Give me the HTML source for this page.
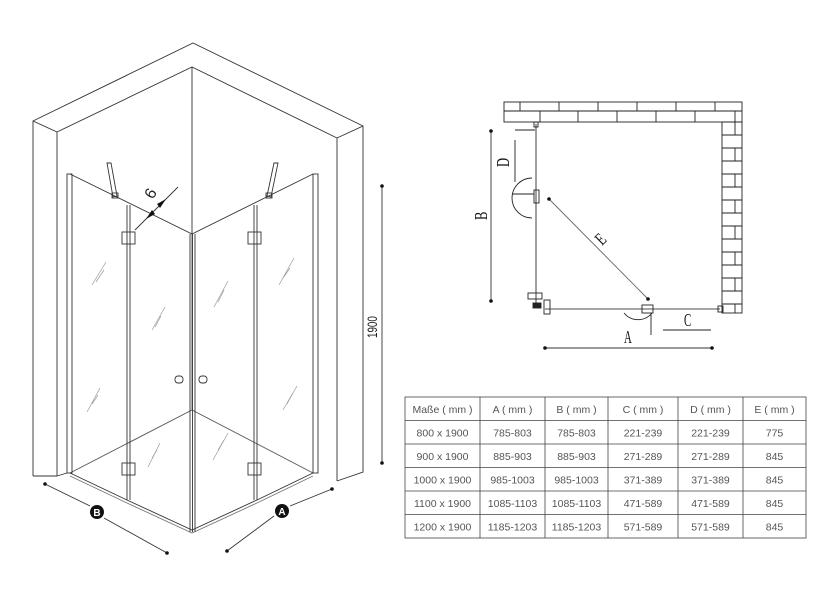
<!DOCTYPE html>
<html><head><meta charset="utf-8"><style>
html,body{margin:0;padding:0;background:#fff;}
svg{display:block;}
text{font-family:"Liberation Sans",sans-serif;}
text.s{font-family:"Liberation Serif",serif;}
</style></head><body>
<svg width="840" height="603" viewBox="0 0 840 603" xmlns="http://www.w3.org/2000/svg">
<g fill="none" stroke="#333" stroke-width="0.9">
<polyline points="33,476 33,121 193,43 363,126 363,472 337,481"/>
<polyline points="57,476 57,132 192,67 337,138 337,481"/>
<line x1="33" y1="121" x2="57" y2="132"/>
<line x1="363" y1="126" x2="337" y2="138"/>
<line x1="33" y1="476" x2="57" y2="476"/>
<line x1="57" y1="476" x2="67" y2="473"/>
<line x1="192" y1="67" x2="192" y2="234"/>
<line x1="192" y1="410" x2="70" y2="473" stroke="#555"/>
<line x1="192" y1="410" x2="313" y2="473" stroke="#555"/>
<line x1="192" y1="410" x2="192" y2="234" stroke="#555"/>
<rect x="67" y="174" width="5" height="299"/>
<rect x="313" y="174" width="5" height="299"/>
<polyline points="70,174 192,234 313,174"/>
<polyline points="70,473 127,500 192,530 257,500 313,473"/>
<polyline points="70,476 127,503 192,533 257,503 313,476" stroke="#777"/>
<line x1="127" y1="205" x2="127" y2="500"/><line x1="130" y1="205" x2="130" y2="500"/>
<line x1="190" y1="234" x2="190" y2="532"/><line x1="192.5" y1="234" x2="192.5" y2="532"/><line x1="195" y1="234" x2="195" y2="532"/>
<line x1="254" y1="205" x2="254" y2="500"/><line x1="257" y1="205" x2="257" y2="500"/>
<rect x="122" y="232" width="13" height="12"/><rect x="122" y="463" width="13" height="12"/>
<rect x="248" y="232" width="13" height="12"/><rect x="248" y="463" width="13" height="12"/>
<polygon points="107,163 111,163 117,196 113,197"/><rect x="112" y="193" width="6" height="5"/>
<polygon points="274,163 278,163 271,197 267,196"/><rect x="266" y="193" width="6" height="5"/>
<rect x="175" y="376" width="8" height="7" rx="3"/><rect x="199" y="376" width="8" height="7" rx="3"/>
<g stroke="#999" stroke-width="0.7">
<line x1="92" y1="285" x2="106" y2="262"/><line x1="96" y1="282" x2="104" y2="270"/>
<line x1="152" y1="330" x2="165" y2="307"/><line x1="155" y1="327" x2="161" y2="316"/>
<line x1="87" y1="412" x2="100" y2="388"/><line x1="92" y1="404" x2="98" y2="395"/>
<line x1="148" y1="467" x2="160" y2="443"/><line x1="152" y1="458" x2="157" y2="450"/>
<line x1="214" y1="307" x2="228" y2="281"/><line x1="218" y1="302" x2="224" y2="290"/>
<line x1="279" y1="285" x2="294" y2="258"/><line x1="283" y1="278" x2="290" y2="268"/>
<line x1="283" y1="410" x2="297" y2="386"/><line x1="287" y1="404" x2="293" y2="393"/>
<line x1="213" y1="460" x2="228" y2="433"/><line x1="218" y1="450" x2="224" y2="440"/>
</g>
<line x1="135" y1="230" x2="178" y2="187"/>
</g>
<polygon points="146,219 152,210 155,214" fill="#111"/>
<polygon points="166,199 160,208 157,204" fill="#111"/>
<text font-size="16" fill="#222" transform="translate(153,200) rotate(-60)">6</text>
<g stroke="#333" stroke-width="0.9"><line x1="382" y1="186" x2="382" y2="463"/></g>
<circle cx="382" cy="186" r="1.8" fill="#111"/><circle cx="382" cy="463" r="1.8" fill="#111"/>
<text font-size="14" fill="#222" transform="translate(377,338) rotate(-90) scale(0.7,1)">1900</text>
<g stroke="#333" stroke-width="0.9"><line x1="45" y1="484" x2="90" y2="506"/><line x1="104" y1="518" x2="167" y2="553"/>
<line x1="227" y1="551" x2="274" y2="516"/><line x1="290" y1="506" x2="332" y2="489"/></g>
<circle cx="45" cy="484" r="1.8" fill="#111"/><circle cx="167" cy="553" r="1.8" fill="#111"/>
<circle cx="227" cy="551" r="1.8" fill="#111"/><circle cx="332" cy="489" r="1.8" fill="#111"/>
<circle cx="97" cy="512" r="7" fill="#111"/><circle cx="282" cy="511" r="7" fill="#111"/>
<text x="97" y="516" font-size="10" font-weight="bold" fill="#fff" text-anchor="middle">B</text>
<text x="282" y="515" font-size="10" font-weight="bold" fill="#fff" text-anchor="middle">A</text>

<g fill="none" stroke="#222" stroke-width="0.9">
<rect x="504" y="102" width="238" height="20"/>
<line x1="504" y1="111" x2="742" y2="111"/>
<path d="M520,102V111M559,102V111M598,102V111M637,102V111M676,102V111M715,102V111M540,111V122M578,111V122M617,111V122M656,111V122M695,111V122M735,111V122"/>
<rect x="722" y="122" width="20" height="191"/>
<path d="M722,135H742M722,148H742M722,161H742M722,174H742M722,187H742M722,200H742M722,213H742M722,226H742M722,239H742M722,252H742M722,265H742M722,278H742M722,291H742M722,304H742"/>
<path d="M735,122V135M735,148V161M735,174V187M735,200V213M735,226V239M735,252V265M735,278V291M735,304V313"/>
</g>
<g stroke="#888" stroke-width="1.6"><line x1="536" y1="124" x2="536" y2="303"/><line x1="545" y1="309" x2="720" y2="309"/></g>
<g fill="none" stroke="#222" stroke-width="0.9">
<rect x="534" y="122" width="4" height="5"/>
<rect x="718" y="306" width="5" height="6"/>
<rect x="642" y="305" width="11" height="8"/>
<rect x="534" y="190" width="5" height="13"/>
<path d="M532,178 A20,20 0 0 0 532,218"/>
<path d="M624,313 A18,18 0 0 0 652,313"/>
<rect x="528" y="293" width="14" height="6"/>
<rect x="544" y="300" width="6" height="14"/>
<rect x="533" y="303" width="8" height="5" fill="#222"/>
<line x1="512" y1="194" x2="534" y2="194"/>
<line x1="515" y1="130" x2="535" y2="130"/>
<line x1="515" y1="140" x2="515" y2="182"/>
<line x1="651" y1="313" x2="651" y2="335"/>
<line x1="663" y1="330" x2="711" y2="330"/>
</g>
<line x1="549" y1="199" x2="648" y2="299" stroke="#666" stroke-width="0.9"/>
<circle cx="549" cy="199" r="1.8" fill="#111"/><circle cx="648" cy="299" r="1.8" fill="#111"/>
<line x1="491" y1="131" x2="491" y2="301" stroke="#333" stroke-width="0.9"/>
<circle cx="491" cy="131" r="1.8" fill="#111"/><circle cx="491" cy="301" r="1.8" fill="#111"/>
<line x1="545" y1="348" x2="712" y2="348" stroke="#333" stroke-width="0.9"/>
<circle cx="545" cy="348" r="1.8" fill="#111"/><circle cx="712" cy="348" r="1.8" fill="#111"/>
<g fill="#111" font-size="18">
<text class="s" transform="translate(487,220) rotate(-90) scale(0.7,1)">B</text>
<text class="s" transform="translate(509,167) rotate(-90) scale(0.7,1)">D</text>
<text class="s" transform="translate(624,343) scale(0.6,1)">A</text>
<text class="s" transform="translate(684,326) scale(0.6,1)">C</text>
<text class="s" transform="translate(602,246) rotate(-45) scale(0.7,1)">E</text>
</g>

<g stroke="#444" stroke-width="0.8" fill="none">
<rect x="405" y="397" width="401" height="141"/>
<path d="M405,420.5H806M405,444H806M405,467.5H806M405,491H806M405,514.5H806"/>
<path d="M480,397V538M545,397V538M608,397V538M678,397V538M743,397V538"/>
</g>
<g font-size="10.5" fill="#555" text-anchor="middle">
<text x="442.5" y="413">Maße ( mm )</text><text x="512.5" y="413">A ( mm )</text><text x="576.5" y="413">B ( mm )</text><text x="643" y="413">C ( mm )</text><text x="710.5" y="413">D ( mm )</text><text x="774.5" y="413">E ( mm )</text>
<text x="442.5" y="436.5">800 x 1900</text><text x="512.5" y="436.5">785-803</text><text x="576.5" y="436.5">785-803</text><text x="643" y="436.5">221-239</text><text x="710.5" y="436.5">221-239</text><text x="774.5" y="436.5">775</text>
<text x="442.5" y="460">900 x 1900</text><text x="512.5" y="460">885-903</text><text x="576.5" y="460">885-903</text><text x="643" y="460">271-289</text><text x="710.5" y="460">271-289</text><text x="774.5" y="460">845</text>
<text x="442.5" y="483.5">1000 x 1900</text><text x="512.5" y="483.5">985-1003</text><text x="576.5" y="483.5">985-1003</text><text x="643" y="483.5">371-389</text><text x="710.5" y="483.5">371-389</text><text x="774.5" y="483.5">845</text>
<text x="442.5" y="507">1100 x 1900</text><text x="512.5" y="507">1085-1103</text><text x="576.5" y="507">1085-1103</text><text x="643" y="507">471-589</text><text x="710.5" y="507">471-589</text><text x="774.5" y="507">845</text>
<text x="442.5" y="530.5">1200 x 1900</text><text x="512.5" y="530.5">1185-1203</text><text x="576.5" y="530.5">1185-1203</text><text x="643" y="530.5">571-589</text><text x="710.5" y="530.5">571-589</text><text x="774.5" y="530.5">845</text>
</g>
</svg>
</body></html>
